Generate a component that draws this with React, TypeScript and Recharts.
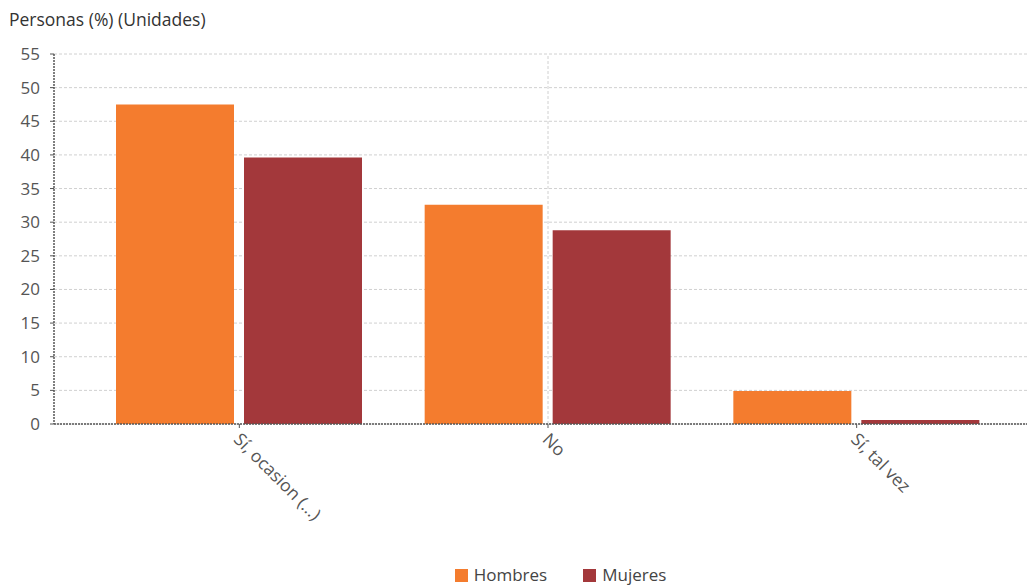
import React from "react";
import { BarChart, Bar, XAxis, YAxis, CartesianGrid, Legend, ReferenceLine } from "recharts";

const categories = ["Sí, ocasion (...)", "No", "Sí, tal vez"];
const hombres = [47.5, 32.6, 4.9];
const mujeres = [39.6, 28.8, 0.6];
const yTicks = [0, 5, 10, 15, 20, 25, 30, 35, 40, 45, 50, 55];
const seriesNames = ["Hombres", "Mujeres"];
const seriesColors = ["#F47C2E", "#A3383B"];

const data = categories.map((c, i) => ({ name: c, Hombres: hombres[i], Mujeres: mujeres[i] }));

const FONT = "'Open Sans', 'Noto Sans', sans-serif";

const XTick = (props: any) => {
  const { x, y, payload } = props;
  return (
    <g transform={`translate(${x + 4},${y})`}>
      <text
        x={0}
        y={0}
        dy={15}
        dx={0}
        transform="rotate(45)"
        textAnchor="start"
        fill="#555"
        fontSize={17.5}
        fontFamily={FONT}
      >
        {payload.value}
      </text>
    </g>
  );
};

const LegendContent = () => (
  <div
    style={{
      display: "flex",
      justifyContent: "center",
      alignItems: "center",
      height: 20,
      fontFamily: FONT,
      fontSize: 17,
      color: "#444",
      paddingLeft: 86,
    }}
  >
    {seriesNames.map((n, i) => (
      <div key={n} style={{ display: "flex", alignItems: "center", marginRight: i === 0 ? 36 : 0 }}>
        <span style={{ display: "inline-block", width: 13, height: 13, background: seriesColors[i], marginRight: 6 }} />
        <span style={{ lineHeight: "20px" }}>{n}</span>
      </div>
    ))}
  </div>
);

export default function App() {
  return (
    <div style={{ position: "relative", margin: "-8px 0 0 -8px", width: 1035, height: 585, background: "#fff" }}>
      <div
        style={{
          position: "absolute",
          left: 9,
          top: 7,
          fontFamily: FONT,
          fontSize: 17.5,
          color: "#333",
          whiteSpace: "nowrap",
        }}
      >
        Personas (%) (Unidades)
      </div>
      <BarChart
        width={1035}
        height={585}
        data={data}
        margin={{ top: 54, right: 0, left: 0, bottom: 0 }}
        barCategoryGap={31}
        barGap={10}
      >
        <CartesianGrid vertical={false} stroke="#d0d0d0" strokeDasharray="3 2" />
        <ReferenceLine x="No" stroke="#d0d0d0" strokeDasharray="3 2" />
        <XAxis
          dataKey="name"
          height={141}
          interval={0}
          tick={<XTick />}
          tickSize={4}
          stroke="#555"
          axisLine={{ stroke: "#555", strokeDasharray: "2 1", strokeWidth: 1.5 }}
          padding={{ left: 31, right: 24 }}
        />
        <YAxis
          width={54}
          domain={[0, 55]}
          ticks={yTicks}
          interval={0}
          tickSize={4}
          tickMargin={10}
          stroke="#555"
          axisLine={{ stroke: "#555", strokeDasharray: "2 1", strokeWidth: 1.5 }}
          tick={{ fill: "#555", fontSize: 17, fontFamily: FONT }}
        />
        <Legend verticalAlign="bottom" height={20} content={<LegendContent />} />
        {seriesNames.map((n, i) => (
          <Bar key={n} dataKey={n} fill={seriesColors[i]} isAnimationActive={false} />
        ))}
      </BarChart>
    </div>
  );
}
